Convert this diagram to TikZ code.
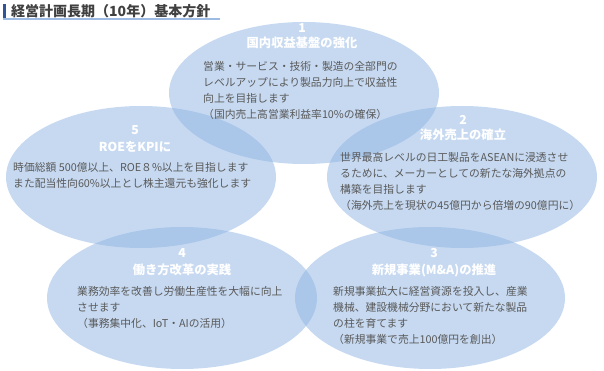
\documentclass[tikz,border=0pt]{standalone}
\usepackage{fontspec}
\setmainfont{Noto Sans CJK JP}
\usepackage{tikz,xcolor}
\usetikzlibrary{shapes.geometric}

\definecolor{petalblue}{RGB}{142,180,227}
\definecolor{barblue}{RGB}{47,85,151}
\definecolor{lineblue}{RGB}{157,187,227}
\definecolor{bodygray}{RGB}{89,89,89}
\definecolor{headgray}{RGB}{64,64,64}

\tikzset{
  petal/.style={ellipse,fill=petalblue,fill opacity=0.5,draw=none,minimum width=270pt,minimum height=142pt,inner sep=0pt},
  headtext/.style={text=white,font=\bfseries\fontsize{12.3}{14}\selectfont,inner sep=0pt},
  bodytext/.style={text=bodygray,font=\fontsize{10.8}{16}\selectfont,align=left,anchor=north west,inner sep=0pt}
}

\begin{document}
\begin{tikzpicture}[x=1pt,y=-1pt]
\useasboundingbox (0,0) rectangle (604,371);

% title
\fill[barblue] (3,4) rectangle (6,18);
\draw[lineblue,line width=1.5pt] (3,19) -- (220,19);
\node[anchor=west,inner sep=0pt,text=headgray,font=\bfseries\fontsize{14}{16}\selectfont] (title) at (11,11) {経営計画長期（10年）基本方針};

% five ellipses
\node[petal] (e1) at (304,93) {};
\node[petal] (e2) at (462,177) {};
\node[petal] (e3) at (430,298) {};
\node[petal] (e4) at (182,298) {};
\node[petal] (e5) at (141,177) {};

% 1
\node[headtext] (n1) at (302,28) {1};
\node[headtext] (h1) at (302,43) {国内収益基盤の強化};
\node[bodytext] (b1) at (203,61.6) {営業・サービス・技術・製造の全部門の\\レベルアップにより製品力向上で収益性\\向上を目指します\\（国内売上高営業利益率10\%の確保）};

% 2
\node[headtext] (n2) at (463,120) {2};
\node[headtext] (h2) at (463,135) {海外売上の確立};
\node[bodytext] (b2) at (340,152.6) {世界最高レベルの日工製品をASEANに浸透させ\\るために、メーカーとしての新たな海外拠点の\\構築を目指します\\（海外売上を現状の45億円から倍増の90億円に）};

% 3
\node[headtext] (n3) at (434,253) {3};
\node[headtext] (h3) at (434,270) {新規事業(M\&A)の推進};
\node[bodytext] (b3) at (333,286.6) {新規事業拡大に経営資源を投入し、産業\\機械、建設機械分野において新たな製品\\の柱を育てます\\（新規事業で売上100億円を創出）};

% 4
\node[headtext] (n4) at (182,253) {4};
\node[headtext] (h4) at (182,270) {働き方改革の実践};
\node[bodytext] (b4) at (77,286.6) {業務効率を改善し労働生産性を大幅に向上\\させます\\（事務集中化、IoT・AIの活用）};

% 5
\node[headtext] (n5) at (135,130) {5};
\node[headtext] (h5) at (135,147) {ROEをKPIに};
\node[bodytext] (b5) at (13,162.6) {時価総額 500億以上、ROE８\%以上を目指します\\また配当性向60\%以上とし株主還元も強化します};

\end{tikzpicture}
\end{document}
